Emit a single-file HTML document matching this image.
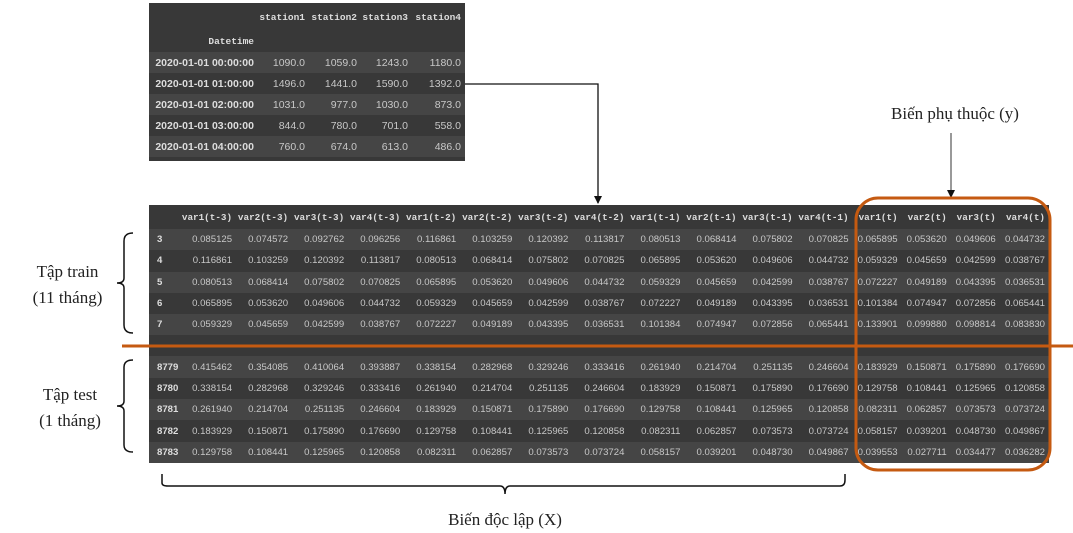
<!DOCTYPE html>
<html><head><meta charset="utf-8"><style>
body{margin:0;width:1073px;height:533px;background:#fff;position:relative;overflow:hidden;font-family:"Liberation Sans",sans-serif}
table{border-collapse:collapse;table-layout:fixed;position:absolute}
td,th{padding:0 4px 0 0;text-align:right;white-space:nowrap;overflow:hidden}
.t1{left:149px;top:3px;width:316px;background:#383838;color:#c8c8c8;font-size:10.5px}
.t1 th{font-family:"Liberation Mono",monospace;font-size:9.5px;color:#ddd;font-weight:bold}
.t1 td.i{font-weight:bold;color:#ddd;font-size:10.5px}
.t2{left:149px;top:205px;width:900px;background:#383838;color:#c8c8c8;font-size:9.6px}
.t2 th{font-family:"Liberation Mono",monospace;font-size:9.3px;color:#ddd;font-weight:bold;height:24px}
.t2 td{height:21.3px}
.t2 td.i{text-align:left;padding-left:8px;font-weight:bold;color:#ddd}
.s{background:#454545}
.lbl{position:absolute;font-family:"Liberation Serif",serif;font-size:17px;color:#222;text-align:center;line-height:26px}
</style></head><body>
<table class="t1">
<colgroup><col style="width:109px"><col style="width:51px"><col style="width:52px"><col style="width:51px"><col style="width:53px"></colgroup>
<tr style="height:28px"><th></th><th>station1</th><th>station2</th><th>station3</th><th>station4</th></tr>
<tr style="height:21px"><th>Datetime</th><th></th><th></th><th></th><th></th></tr>
<tr style="height:21px" class="s"><td class="i">2020-01-01 00:00:00</td><td>1090.0</td><td>1059.0</td><td>1243.0</td><td>1180.0</td></tr>
<tr style="height:21px"><td class="i">2020-01-01 01:00:00</td><td>1496.0</td><td>1441.0</td><td>1590.0</td><td>1392.0</td></tr>
<tr style="height:21px" class="s"><td class="i">2020-01-01 02:00:00</td><td>1031.0</td><td>977.0</td><td>1030.0</td><td>873.0</td></tr>
<tr style="height:21px"><td class="i">2020-01-01 03:00:00</td><td>844.0</td><td>780.0</td><td>701.0</td><td>558.0</td></tr>
<tr style="height:21px" class="s"><td class="i">2020-01-01 04:00:00</td><td>760.0</td><td>674.0</td><td>613.0</td><td>486.0</td></tr>
<tr style="height:4px"><td colspan="5"></td></tr>
</table>

<table class="t2">
<colgroup><col style="width:31px"><col style="width:56px"><col style="width:56px"><col style="width:56px"><col style="width:56px"><col style="width:56px"><col style="width:56px"><col style="width:56px"><col style="width:56px"><col style="width:56px"><col style="width:56px"><col style="width:56px"><col style="width:56px"><col style="width:49px"><col style="width:49px"><col style="width:49px"><col style="width:49px"></colgroup>
<tr><th></th><th>var1(t-3)</th><th>var2(t-3)</th><th>var3(t-3)</th><th>var4(t-3)</th><th>var1(t-2)</th><th>var2(t-2)</th><th>var3(t-2)</th><th>var4(t-2)</th><th>var1(t-1)</th><th>var2(t-1)</th><th>var3(t-1)</th><th>var4(t-1)</th><th>var1(t)</th><th>var2(t)</th><th>var3(t)</th><th>var4(t)</th></tr>
<tr class="s"><td class="i">3</td><td>0.085125</td><td>0.074572</td><td>0.092762</td><td>0.096256</td><td>0.116861</td><td>0.103259</td><td>0.120392</td><td>0.113817</td><td>0.080513</td><td>0.068414</td><td>0.075802</td><td>0.070825</td><td>0.065895</td><td>0.053620</td><td>0.049606</td><td>0.044732</td></tr>
<tr><td class="i">4</td><td>0.116861</td><td>0.103259</td><td>0.120392</td><td>0.113817</td><td>0.080513</td><td>0.068414</td><td>0.075802</td><td>0.070825</td><td>0.065895</td><td>0.053620</td><td>0.049606</td><td>0.044732</td><td>0.059329</td><td>0.045659</td><td>0.042599</td><td>0.038767</td></tr>
<tr class="s"><td class="i">5</td><td>0.080513</td><td>0.068414</td><td>0.075802</td><td>0.070825</td><td>0.065895</td><td>0.053620</td><td>0.049606</td><td>0.044732</td><td>0.059329</td><td>0.045659</td><td>0.042599</td><td>0.038767</td><td>0.072227</td><td>0.049189</td><td>0.043395</td><td>0.036531</td></tr>
<tr><td class="i">6</td><td>0.065895</td><td>0.053620</td><td>0.049606</td><td>0.044732</td><td>0.059329</td><td>0.045659</td><td>0.042599</td><td>0.038767</td><td>0.072227</td><td>0.049189</td><td>0.043395</td><td>0.036531</td><td>0.101384</td><td>0.074947</td><td>0.072856</td><td>0.065441</td></tr>
<tr class="s"><td class="i">7</td><td>0.059329</td><td>0.045659</td><td>0.042599</td><td>0.038767</td><td>0.072227</td><td>0.049189</td><td>0.043395</td><td>0.036531</td><td>0.101384</td><td>0.074947</td><td>0.072856</td><td>0.065441</td><td>0.133901</td><td>0.099880</td><td>0.098814</td><td>0.083830</td></tr>
<tr><td colspan="17" style="height:21px"></td></tr>
<tr class="s"><td class="i">8779</td><td>0.415462</td><td>0.354085</td><td>0.410064</td><td>0.393887</td><td>0.338154</td><td>0.282968</td><td>0.329246</td><td>0.333416</td><td>0.261940</td><td>0.214704</td><td>0.251135</td><td>0.246604</td><td>0.183929</td><td>0.150871</td><td>0.175890</td><td>0.176690</td></tr>
<tr><td class="i">8780</td><td>0.338154</td><td>0.282968</td><td>0.329246</td><td>0.333416</td><td>0.261940</td><td>0.214704</td><td>0.251135</td><td>0.246604</td><td>0.183929</td><td>0.150871</td><td>0.175890</td><td>0.176690</td><td>0.129758</td><td>0.108441</td><td>0.125965</td><td>0.120858</td></tr>
<tr class="s"><td class="i">8781</td><td>0.261940</td><td>0.214704</td><td>0.251135</td><td>0.246604</td><td>0.183929</td><td>0.150871</td><td>0.175890</td><td>0.176690</td><td>0.129758</td><td>0.108441</td><td>0.125965</td><td>0.120858</td><td>0.082311</td><td>0.062857</td><td>0.073573</td><td>0.073724</td></tr>
<tr><td class="i">8782</td><td>0.183929</td><td>0.150871</td><td>0.175890</td><td>0.176690</td><td>0.129758</td><td>0.108441</td><td>0.125965</td><td>0.120858</td><td>0.082311</td><td>0.062857</td><td>0.073573</td><td>0.073724</td><td>0.058157</td><td>0.039201</td><td>0.048730</td><td>0.049867</td></tr>
<tr class="s"><td class="i">8783</td><td>0.129758</td><td>0.108441</td><td>0.125965</td><td>0.120858</td><td>0.082311</td><td>0.062857</td><td>0.073573</td><td>0.073724</td><td>0.058157</td><td>0.039201</td><td>0.048730</td><td>0.049867</td><td>0.039553</td><td>0.027711</td><td>0.034477</td><td>0.036282</td></tr>
</table>

<svg width="1073" height="533" style="position:absolute;left:0;top:0">
<polyline points="465,84 598,84 598,203" fill="none" stroke="#111" stroke-width="1.3"/>
<path d="M594,196 L602,196 L598,204 z" fill="#111"/>
<line x1="951" y1="133" x2="951" y2="192" stroke="#333" stroke-width="1"/>
<path d="M947,190 L955,190 L951,198 z" fill="#111"/>
<rect x="856" y="198" width="194" height="272" rx="22" fill="none" stroke="#c55a11" stroke-width="3"/>
<line x1="122" y1="346" x2="1073" y2="346" stroke="#c55a11" stroke-width="3"/>
<path d="M133,233 Q124,233 124,241 L124,278 Q124,283 117,283 Q124,283 124,288 L124,325 Q124,333 133,333" fill="none" stroke="#111" stroke-width="1.5"/>
<path d="M133,360 Q124,360 124,367 L124,401 Q124,406 117,406 Q124,406 124,411 L124,445 Q124,452 133,452" fill="none" stroke="#111" stroke-width="1.5"/>
<path d="M162,474 L162,483 Q162,486 168,486 L500,486 Q505,486 505,494 Q505,486 510,486 L840,486 Q845,486 845,480 L845,474" fill="none" stroke="#111" stroke-width="1.5"/>
</svg>

<div class="lbl" style="left:0;top:259px;width:135px">Tập train<br>(11 tháng)</div>
<div class="lbl" style="left:10px;top:382px;width:120px">Tập test<br>(1 tháng)</div>
<div class="lbl" style="left:860px;top:101px;width:190px">Biến phụ thuộc (y)</div>
<div class="lbl" style="left:400px;top:507px;width:210px">Biến độc lập (X)</div>
</body></html>
